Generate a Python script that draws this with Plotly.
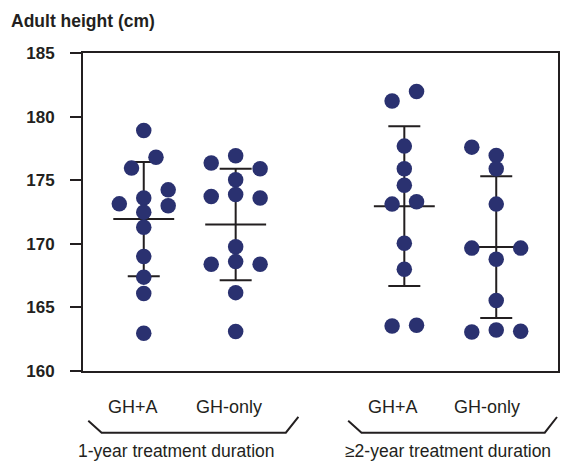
import plotly.graph_objects as go

# ---- data ----
categories = ["GH+A", "GH-only", "GH+A", "GH-only"]
group_labels = ["1-year treatment duration", "\u22652-year treatment duration"]
y_title = "Adult height (cm)"
y_ticks = [160, 165, 170, 175, 180, 185]

heights_1 = [178.9, 176.8, 175.95, 174.24, 173.14, 173.6, 172.99, 172.49, 171.3, 169.0, 167.38, 166.1, 162.97]
slots_1 = [0, 1, -1, 2, -2, 0, 2, 0, 0, 0, 0, 0, 0]
heights_2 = [176.92, 176.35, 175.9, 175.03, 173.72, 173.88, 173.6, 169.76, 168.4, 168.6, 168.4, 166.16, 163.1]
slots_2 = [0, -2, 2, 0, -2, 0, 2, 0, -2, 0, 2, 0, 0]
heights_3 = [181.22, 181.98, 177.68, 175.9, 174.61, 173.12, 173.3, 170.05, 168.0, 163.54, 163.6]
slots_3 = [-1, 1, 0, 0, 0, -1, 1, 0, 0, -1, 1]
heights_4 = [177.6, 176.94, 175.9, 173.12, 169.66, 169.66, 168.79, 165.54, 163.07, 163.23, 163.13]
slots_4 = [-2, 0, 0, 0, -2, 2, 0, 0, -2, 0, 2]

means = [171.94, 171.52, 172.96, 169.74]
sds = [4.5, 4.38, 6.28, 5.57]

# ---- layout geometry ----
W, H = 566, 461
L, R, T, B = 83, 6, 53, 90
PW, PH = W - L - R, H - T - B
positions = [1.0, 2.0, 3.835, 4.835]
x_range = [0.339, 5.507]
slot_w = 0.133

DOT = "#2a3170"
INK = "#231f20"
FONT = "Liberation Sans Narrow, Arial Narrow, Liberation Sans, Arial, sans-serif"


def px(x):
    return (x - L) / PW


def py(y):
    return (H - B - y) / PH


fig = go.Figure()

# mean ± SD
fig.add_trace(go.Scatter(
    x=positions, y=means, mode="markers",
    marker=dict(symbol="line-ew", size=43.5, line=dict(width=2, color=INK), color=INK),
    error_y=dict(type="data", array=sds, visible=True, color=INK, thickness=2, width=16),
    hoverinfo="skip", showlegend=False,
))

for pos, hs, sl in [(positions[0], heights_1, slots_1), (positions[1], heights_2, slots_2),
                    (positions[2], heights_3, slots_3), (positions[3], heights_4, slots_4)]:
    fig.add_trace(go.Scatter(
        x=[pos + s * slot_w for s in sl], y=hs, mode="markers",
        marker=dict(size=15.5, color=DOT, line=dict(width=0)),
        showlegend=False,
    ))

annotations = []
# y title
annotations.append(dict(text="<b>" + y_title + "</b>", x=px(9), y=py(21.5), xref="paper", yref="paper",
                        xanchor="left", yanchor="middle", showarrow=False,
                        font=dict(family=FONT, size=17.5, color=INK)))
# category labels
cat_px = [133, 230, 394.5, 488.7]
for lab, cx in zip(categories, cat_px):
    annotations.append(dict(text=lab, x=px(cx), y=py(406.5), xref="paper", yref="paper",
                            xanchor="center", yanchor="middle", showarrow=False,
                            font=dict(family=FONT, size=18, color=INK)))
# group labels
grp_px = [176.7, 450]
for lab, cx in zip(group_labels, grp_px):
    annotations.append(dict(text=lab, x=px(cx), y=py(451.5), xref="paper", yref="paper",
                            xanchor="center", yanchor="middle", showarrow=False,
                            font=dict(family=FONT, size=17.5, color=INK)))

shapes = []
for pts in [[(88.3, 420.7), (101.7, 432.7), (286.7, 432.7), (299.3, 417)],
            [(349.3, 420.7), (362.7, 432.7), (546.7, 432.7), (559, 417)]]:
    path = "M " + " L ".join(f"{px(a):.5f},{py(b):.5f}" for a, b in pts)
    shapes.append(dict(type="path", path=path, xref="paper", yref="paper",
                       line=dict(color=INK, width=2)))

fig.update_layout(
    width=W, height=H,
    margin=dict(l=L, r=R, t=T, b=B, pad=0),
    paper_bgcolor="white", plot_bgcolor="white",
    annotations=annotations, shapes=shapes,
    xaxis=dict(range=x_range, showgrid=False, zeroline=False, showticklabels=False,
               ticks="", showline=True, linecolor=INK, linewidth=2, mirror=True, fixedrange=True),
    yaxis=dict(range=[160, 185], tickvals=y_ticks, showgrid=False, zeroline=False,
               ticks="outside", ticklen=11, tickwidth=2, tickcolor=INK,
               showline=True, linecolor=INK, linewidth=2, mirror=True,
               ticklabelstandoff=12,
               tickfont=dict(family=FONT, size=17, color=INK, weight="bold"), fixedrange=True),
)

fig.write_html("out.html")
